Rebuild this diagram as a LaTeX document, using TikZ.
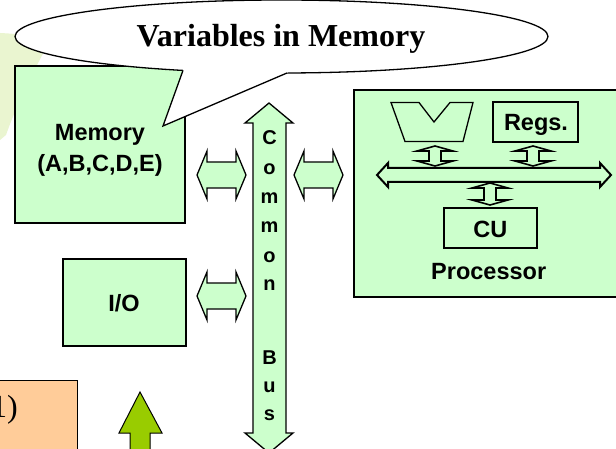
\documentclass[tikz,border=0pt]{standalone}
\usepackage{fontspec}
\setmainfont{Liberation Serif}
\setsansfont{Liberation Sans}
\usetikzlibrary{shapes.geometric}

\definecolor{boxgreen}{RGB}{204,255,204}
\definecolor{peach}{RGB}{255,204,153}
\definecolor{leafgreen}{RGB}{153,204,0}
\definecolor{paleleaf}{RGB}{234,245,208}

% horizontal block double arrow: x1, x2, y, head half-height, shaft half-height, head length
\newcommand{\hblockarrow}[7][]{%
  \draw[blockarrow,#1] (#2,#4) -- (#2+#7,#4-#5) -- (#2+#7,#4-#6) -- (#3-#7,#4-#6)
    -- (#3-#7,#4-#5) -- (#3,#4) -- (#3-#7,#4+#5) -- (#3-#7,#4+#6)
    -- (#2+#7,#4+#6) -- (#2+#7,#4+#5) -- cycle;}
% vertical block double arrow: y1, y2, x, head half-width, shaft half-width, head length
\newcommand{\vblockarrow}[7][]{%
  \draw[blockarrow,#1] (#4,#2) -- (#4+#5,#2+#7) -- (#4+#6,#2+#7) -- (#4+#6,#3-#7)
    -- (#4+#5,#3-#7) -- (#4,#3) -- (#4-#5,#3-#7) -- (#4-#6,#3-#7)
    -- (#4-#6,#2+#7) -- (#4-#5,#2+#7) -- cycle;}

\begin{document}
\begin{tikzpicture}[x=1pt,y=-1pt,
  bigbox/.style={draw=black, line width=2.6pt, fill=boxgreen, inner sep=0pt},
  smallbox/.style={draw=black, line width=1.3pt, fill=boxgreen, inner sep=0pt},
  blockarrow/.style={draw=black, line width=1.3pt, fill=boxgreen, line join=miter},
  lbl/.style={font=\sffamily\bfseries\fontsize{23.5}{28}\selectfont, anchor=base, inner sep=0pt},
  busletter/.style={font=\sffamily\bfseries\fontsize{20}{24}\selectfont, anchor=base, inner sep=0pt},
]
\useasboundingbox (0,0) rectangle (616,449);
\fill[white] (0,0) rectangle (616,449);

% pale leaf watermark at the left edge
\fill[paleleaf] (0,33) .. controls (20,34) and (40,36) .. (50,40)
  .. controls (40,60) and (20,95) .. (6,135) -- (0,140) -- cycle;

% memory and I/O
\node[bigbox, minimum width=170pt, minimum height=157pt] (mem) at (100,144.5) {};
\node[lbl] (memname) at (100,140.5) {Memory};
\node[lbl] (memvars) at (100,171.5) {(A,B,C,D,E)};

\node[bigbox, minimum width=123pt, minimum height=87pt] (io) at (124.5,302.5) {};
\node[lbl] (iolbl) at (124,311.4) {I/O};

% processor
\node[bigbox, minimum width=286pt, minimum height=207pt] (cpu) at (497,193.5) {};
\node[lbl] (cpulbl) at (488.7,279.3) {Processor};

\draw[smallbox] (391,102.5) -- (419,102.5) -- (434,122) -- (450,102.5) -- (473,102.5)
  -- (463,141.5) -- (405,141.5) -- cycle;
\node[smallbox, minimum width=85pt, minimum height=40pt] (regs) at (535.5,122) {};
\node[lbl] (regslbl) at (536,130.7) {Regs.};
\node[smallbox, minimum width=93pt, minimum height=40pt] (cu) at (490.5,228) {};
\node[lbl] (culbl) at (490.3,238) {CU};

\hblockarrow[line width=2pt]{377}{611}{175}{12}{7}{11}
\vblockarrow[line width=1.6pt]{146}{166}{435}{18}{6}{5}
\vblockarrow[line width=1.6pt]{146}{166}{533}{18}{6}{5}
\vblockarrow[line width=1.6pt]{183}{205}{490}{18}{6}{5}

% common bus
\draw[blockarrow] (269,103) -- (293,123) -- (286,123) -- (286,433) -- (293,433)
  -- (269,453) -- (245,433) -- (253,433) -- (253,123) -- (245,123) -- cycle;
\foreach \ch/\yy [count=\i] in {C/145,o/174.5,m/204,m/233,o/262,n/290.5,B/364,u/392,s/420}
  \node[busletter] (bus\i) at (269.5,\yy) {\ch};

% links to the bus
\hblockarrow{197}{246}{175}{24}{13}{10}
\hblockarrow{294}{343}{175}{24}{13}{10}
\hblockarrow{197}{246}{296}{24}{13}{10}

% speech bubble
\node[draw=black, line width=1.3pt, fill=white, ellipse, inner sep=0pt,
  minimum width=533pt, minimum height=73pt] (bubble) at (281.5,36.5) {};
\coordinate (tip) at (163,126);
\fill[white] (tip) -- (184.4,66) -- (296.6,68.5) -- cycle;
\draw[line width=1.3pt] (183,70.4) -- (tip) -- (287,73);
\node[font=\bfseries\fontsize{32}{38}\selectfont, anchor=base, inner sep=0pt] (title)
  at (281,47) {Variables in Memory};

% bottom left: note box and arrow
\node[draw=black, line width=1pt, fill=peach, inner sep=0pt,
  minimum width=100pt, minimum height=90pt] (note) at (27,425) {};
\node[font=\fontsize{32}{38}\selectfont, anchor=base east, inner sep=0pt] (notetxt)
  at (18,417) {1)};
\draw[draw=black, line width=1pt, fill=leafgreen] (140,392) -- (162,433) -- (150,433)
  -- (150,470) -- (130,470) -- (130,433) -- (119,433) -- cycle;
\end{tikzpicture}
\end{document}
